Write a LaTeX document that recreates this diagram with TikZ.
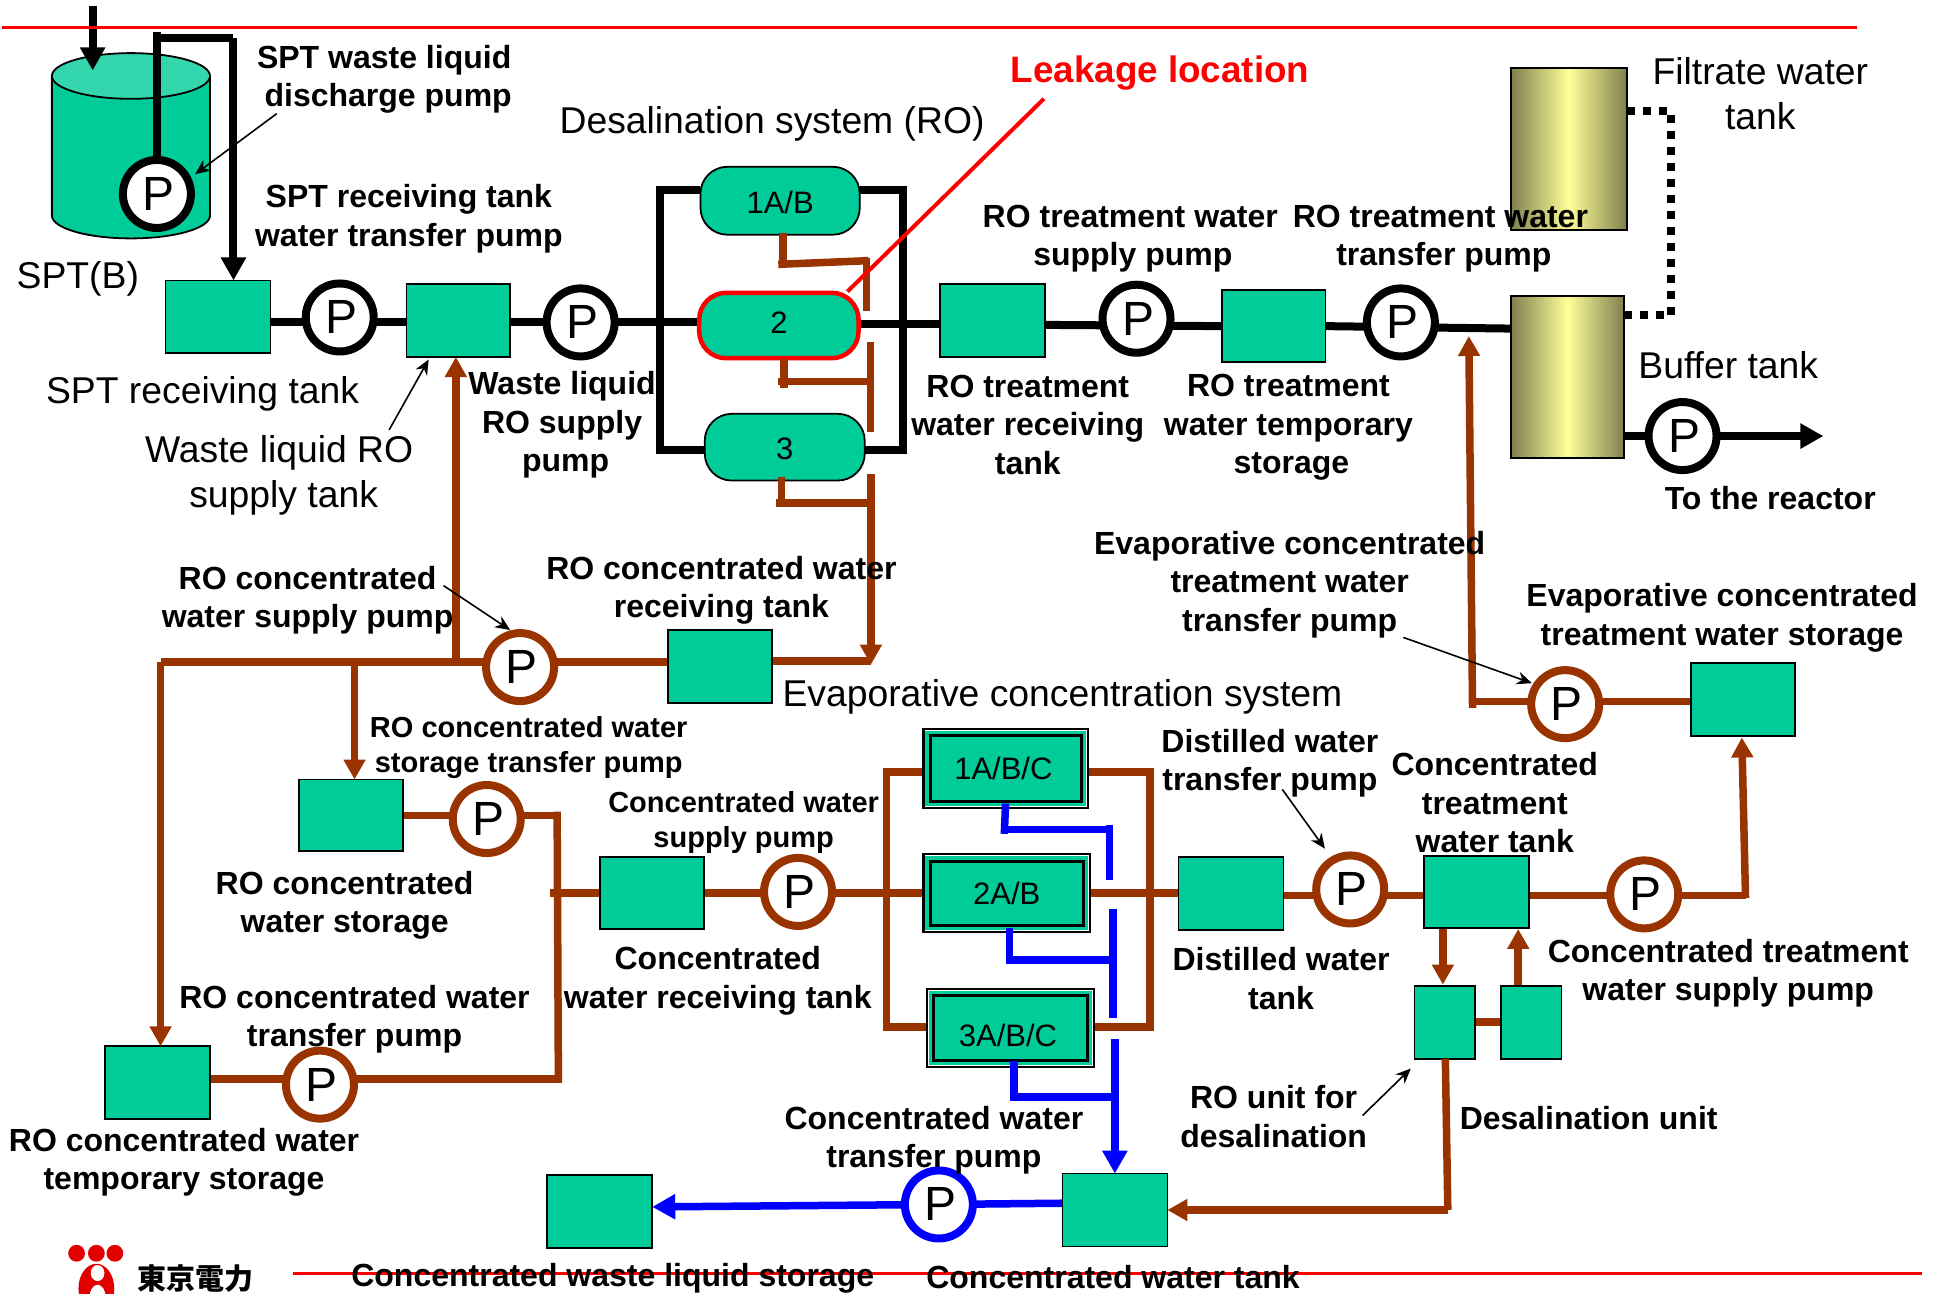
\documentclass[tikz,border=0pt]{standalone}
\usepackage{fontspec}
\setmainfont{Liberation Sans}
\newfontfamily\cjkjp{Noto Sans CJK JP}
\usetikzlibrary{arrows.meta,backgrounds,shapes.geometric,calc}
\definecolor{tankc}{HTML}{00CC99}
\definecolor{tanktop}{HTML}{33D6AD}
\definecolor{brn}{HTML}{993300}
\definecolor{blu}{HTML}{0000FF}
\definecolor{olv}{HTML}{7F7F4F}
\definecolor{ylw}{HTML}{FFFF99}
\definecolor{rd}{HTML}{FF0000}
\tikzset{
 tank/.style={rectangle,draw=black,line width=1.8pt,fill=tankc,inner sep=0,outer sep=0,
   font=\fontsize{31}{36}\selectfont},
 caps/.style={tank,rounded corners=27pt},
 filt/.style={rectangle,draw=black,line width=2pt,inner sep=0,outer sep=0,shading=axis,
   left color=olv,right color=olv,middle color=ylw,shading angle=90},
 pumpn/.style={circle,draw=#1,line width=8pt,fill=white,minimum size=68pt,inner sep=0,outer sep=0,
   font=\fontsize{48}{48}\selectfont},
 kl/.style={line width=8pt,black},
 kla/.style={line width=8pt,black,-{Triangle[length=23pt,width=24pt]}},
 bl/.style={line width=7.5pt,brn},
 bla/.style={line width=7.5pt,brn,-{Triangle[length=20pt,width=21pt]}},
 ul/.style={line width=7.5pt,blu},
 ula/.style={line width=7.5pt,blu,-{Triangle[length=23pt,width=24pt]}},
 lead/.style={line width=1.6pt,black,-{Stealth[length=15pt,width=13pt]}},
 bt/.style={align=center,inner sep=0,font=\fontsize{32}{38.5}\selectfont\bfseries},
 bs/.style={align=center,inner sep=0,font=\fontsize{29}{35}\selectfont\bfseries},
 rt/.style={align=center,inner sep=0,font=\fontsize{37.3}{45}\selectfont},
}
\newcommand{\bx}[7][tank]{%
 \pgfmathsetmacro\cxx{((#3)+(#5))/2}\pgfmathsetmacro\cyy{((#4)+(#6))/2}%
 \pgfmathsetmacro\www{((#5)-(#3))*1.2353}\pgfmathsetmacro\hhh{((#6)-(#4))*1.2353}%
 \node[#1,minimum width=\www pt,minimum height=\hhh pt] (#2) at (\cxx,\cyy) {#7};}
\newcommand{\evapunit}[6]{%
 \bx[rectangle,draw=black,line width=2.2pt,fill=white,inner sep=0,outer sep=0]{#1o}{#2}{#3}{#4}{#5}{}%
 \fill[tankc] (#2+1.6,#3+1.6) rectangle (#4-1.6,#5-1.6);%
 \bx[tank,line width=3pt]{#1}{#2+5.5}{#3+5.5}{#4-5.5}{#5-5.5}{#6}}
\newcommand{\Pp}{\kern3pt P}
\begin{document}
\begin{tikzpicture}[x=1.2353pt,y=-1.2353pt]
\useasboundingbox (0,0) rectangle (1568,1047);
% cylinder SPT(B)
\path[draw=black,line width=1.8pt,fill=tankc] (42,61.5) -- (42,174.5) arc[start angle=180,end angle=360,x radius=64,y radius=-18.5] -- (170,61.5) -- cycle;
\path[draw=black,line width=1.8pt,fill=tanktop] (106,61.5) ellipse[x radius=64,y radius=18.5];
% tank boxes
\bx{b1}{134}{227}{219}{286}{}
\bx{b2}{329}{230}{413}{289}{}
\bx{b3}{761}{230}{846}{289}{}
\bx{b4}{989}{235}{1073}{293}{}
\bx[filt]{ft}{1223}{55}{1317}{186}{}
\bx[filt]{bf}{1223}{240}{1315}{371}{}
\bx{b5}{541}{510}{625}{569}{}
\bx{b7}{242}{631}{326}{689}{}
\bx{b6}{85}{847}{170}{906}{}
\bx{b8}{486}{694}{570}{752}{}
\bx{b12}{954}{694}{1039}{753}{}
\bx{b13}{1153}{693}{1238}{751}{}
\bx{b14}{1369}{537}{1453}{596}{}
\bx{du1}{1145}{798}{1194}{857}{}
\bx{du2}{1215}{798}{1264}{857}{}
\bx{b10}{860}{950}{945}{1009}{}
\bx{b11}{443}{951}{528}{1010}{}
% capsules
\bx[caps]{c1}{567}{135}{696}{190}{\raisebox{-1.5pt}[\height][\depth]{1A/B}}
\bx[caps,draw=rd,line width=4.5pt]{c2}{566}{237}{695}{290}{\raisebox{3pt}[\height][\depth]{2}}
\bx[caps]{c3}{570.5}{335}{700}{389}{\raisebox{-1.5pt}[\height][\depth]{3}}
% evaporators
\evapunit{e1}{747.5}{590}{881}{654}{\hspace*{-5pt}1A/B/C}
\evapunit{e2}{747.5}{691.5}{882.5}{754.5}{2A/B}
\evapunit{e3}{750.5}{800.5}{885.5}{864}{\hspace*{-5pt}\raisebox{-7.5pt}[\height][\depth]{3A/B/C}}
% pumps
\node[pumpn=black] (tp) at (127,157) {\Pp};
\node[pumpn=black] (p1) at (275,257) {\Pp};
\node[pumpn=black] (p2) at (470,261) {\Pp};
\node[pumpn=black] (p3) at (920,258) {\Pp};
\node[pumpn=black] (p4) at (1134,261) {\Pp};
\node[pumpn=black] (p9) at (1362,353) {\Pp};
\node[pumpn=brn] (p5) at (421,540) {\Pp};
\node[pumpn=brn] (p6) at (394,663) {\Pp};
\node[pumpn=brn] (p7) at (259,878) {\Pp};
\node[pumpn=brn] (p8) at (646,722) {\Pp};
\node[pumpn=brn] (p12) at (1093,720) {\Pp};
\node[pumpn=brn] (p13) at (1331,724) {\Pp};
\node[pumpn=brn] (p14) at (1267,570) {\Pp};
\node[pumpn=blu] (p10) at (760,975) {\Pp};
% junction coordinates
\coordinate (inS) at (75,5);
\coordinate (inE) at (75,57);
\coordinate (tpT) at (127,26);
\coordinate (tpC) at (124.5,31);
\coordinate (tpR) at (189,31);
\coordinate (tpL) at (158,141);
\coordinate (frL) at (534,261);
\coordinate (frTL) at (534,154);
\coordinate (frTR) at (731,154);
\coordinate (frBL) at (534,364.5);
\coordinate (frBR) at (731,364.5);
\coordinate (eTL) at (717.5,625);
\coordinate (eTR) at (931,625);
\coordinate (eBL) at (717.5,831.5);
\coordinate (eBR) at (931,831.5);
\coordinate (gT) at (130,536);
\coordinate (gS) at (287,536);
\coordinate (gW) at (369,536);
\coordinate (gE) at (705,535);
\coordinate (k1) at (451,660);
\coordinate (k2) at (452,873.5);
\coordinate (k3) at (445,723);
\coordinate (u1) at (1413,725);
\coordinate (v1) at (1190,569);
\coordinate (w1) at (1170,857);
\coordinate (w2) at (1172,979.5);
\coordinate (bufin) at (1224,266);
\coordinate (bl261) at (0,261);
\coordinate (bl262) at (0,262);
\coordinate (bl263) at (0,263);
\coordinate (bl264) at (0,264);
\coordinate (bl725) at (0,725);
\coordinate (bl723) at (0,723);
\coordinate (bl568) at (0,568);
\coordinate (bl974) at (0,974);
\coordinate (bl977) at (0,977);
% background connectors
\begin{scope}[on background layer]
\draw[kl] (b1.east |- bl261) -- (b2.west |- bl261);
\draw[kl] (b2.east |- bl261) -- (c2.west |- bl261);
\draw[kl] (c2.east |- bl262) -- (b3.west |- bl262);
\draw[kl] (b3.east |- bl263) -- (b4.west |- bl264);
\draw[kl] (b4.east |- bl264) -- (bufin);
\draw[kl] (c1.west |- frTL) -- (frTL) -- (frBL) -- (c3.west |- frBL);
\draw[kl] (c1.east |- frTR) -- (frTR) -- (frBR) -- (c3.east |- frBR);
\draw[kl] (bf.east |- p9) -- (p9);
\draw[bl] (gT) -- (b5.west |- gT);
\draw[bl] (b5.east |- gE) -- (gE);
\draw[bl] (b7.east |- k1) -- (k1);
\draw[bl,line cap=rect] (k1) -- (k2);
\draw[bl] (k2) -- (b6.east |- k2);
\draw[bl] (k3) -- (b8.west |- k3);
\draw[bl] (b8.east |- bl723) -- (e2o.west |- bl723);
\draw[bl] (e1o.west |- eTL) -- (eTL) -- (eBL) -- (e3o.west |- eBL);
\draw[bl] (e1o.east |- eTR) -- (eTR) -- (eBR) -- (e3o.east |- eBR);
\draw[bl] (e2o.east |- bl723) -- (b12.west |- bl723);
\draw[bl] (b12.east |- bl725) -- (b13.west |- bl725);
\draw[bl] (b13.east |- bl725) -- (u1);
\draw[bl] (du1) -- (du2);
\draw[bl] (v1 |- bl568) -- (b14.west |- bl568);
\draw[ul] (b10.west |- bl974) -- (p10);
\end{scope}
% black connectors in front
\draw[kla] (inS) -- (inE);
\draw[kl] (tp.north) -- (tpT);
\draw[kl] (tpC) -- (tpR);
\draw[kla] (tpR) -- (tpR |- b1.north);
\draw[kla] (p9) ++(30,0) -- ++(84,0) coordinate (reac);
\draw[line width=8pt,dash pattern=on 8pt off 8pt] (ft.east |- 0,90) -- (1353,90) -- (1353,255) -- (bf.east |- 0,255);
% brown in front
\draw[bla] (gT) -- (gT |- b6.north);
\draw[bla] (gS) -- (gS |- b7.north);
\draw[bla] (gW) -- (gW |- b2.south);
\draw[bla] (1413,727) -- (1410,597);
\draw[bla] (1168,752) -- (1168,797);
\draw[bla] (1229,797) -- (1229,752);
\draw[bla] (1192,573) -- (1189,272);
\draw[bl] (w1) -- (w2);
\draw[bla] (w2) -- (b10.east |- w2);
% RO brown
\draw[bl] (634,189) -- (634,214);
\draw[bl] (630,214) -- (703,211);
\draw[bl] (701.5,209) -- (701.5,252);
\draw[bl] (634.5,291) -- (634.5,314);
\draw[bl] (630,309) -- (704,309);
\draw[bl] (704.5,277) -- (704.5,350);
\draw[bl] (632.5,386) -- (632.5,410);
\draw[bl] (628,407) -- (705,407);
\draw[bla] (705,384) -- (705,538);
% blue
\draw[ul] (814,650.5) -- (813,675);
\draw[ul] (810,671.5) -- (898,671.5);
\draw[ul] (898,668) -- (898,712.5);
\draw[ul] (901,736) -- (901,824);
\draw[ul] (817,751) -- (817,780);
\draw[ul] (814,777) -- (901,777);
\draw[ula] (902.5,841) -- (902.5,950);
\draw[ul] (821,859) -- (821,891);
\draw[ul] (818,888) -- (902,888);
\draw[ula] (p10) -- (b11.east |- bl977);
% leaders
\draw[lead] (224,92) -- (tpL);
\draw[lead] (315,348) -- (347,291);
\draw[lead] (359,474) -- (413,510);
\draw[lead] (1038,639) -- (1072.5,687);
\draw[lead] (1136,516) -- (1240,553);
\draw[lead] (1103,903) -- (1142,865);
\draw[line width=4pt,rd] (845,80) -- (686,236);
% red rules
\draw[line width=3pt,rd] (2,22) -- (1503,22);
\draw[line width=3pt,rd] (237,1031) -- (1556,1031);
% logo
\begin{scope}
\clip (0,0) rectangle (1568,1047);
\fill[rd!88!black] (62,1014.5) circle (6.8);
\fill[rd!88!black] (78,1014.5) circle (6.8);
\fill[rd!88!black] (93,1014.5) circle (6.8);
\fill[rd!88!black] (78,1043) ellipse[x radius=14.5,y radius=20];
\fill[white] (79,1030.5) ellipse[x radius=5.5,y radius=6.5];
\fill[white] (79,1050) ellipse[x radius=6.5,y radius=10];
\end{scope}
\node[inner sep=0,font=\fontsize{29}{29}\selectfont\cjkjp\bfseries,text=black] (logo) at (158,1035) {東京電力};
% labels
\node[rt] (t1) at (63,226) {SPT(B)};
\node[rt] (t2) at (164,319) {SPT receiving tank};
\node[rt] (t3) at (226,385) {Waste liquid RO\\\hspace*{9pt}supply tank};
\node[rt] (t4) at (625,100) {Desalination system (RO)};
\node[rt] (t5) at (1425,76) {Filtrate water\\tank};
\node[rt] (t6) at (1399,296) {Buffer tank};
\node[rt] (t7) at (860,564) {Evaporative concentration system};
\node[bt,text=rd,font=\fontsize{36.8}{40}\selectfont\bfseries] (t8) at (939,59) {Leakage location};
\node[bt] (l1) at (311,64) {SPT waste liquid\\\hspace*{8pt}discharge pump};
\node[bt] (l2) at (331,177) {SPT receiving tank\\water transfer pump};
\node[bt] (l3) at (455,344) {Waste liquid\\RO supply\\\hspace*{7pt}pump};
\node[bt] (l4) at (915,193) {RO treatment water\\\hspace*{5pt}supply pump};
\node[bt] (l5) at (1166,193) {RO treatment water\\\hspace*{7pt}transfer pump};
\node[bt] (l6) at (832,344) {RO treatment\\water receiving\\tank};
\node[bt] (l7) at (1043,346) {RO treatment\\water temporary\\\hspace*{6pt}storage};
\node[bt] (l8) at (1433,403) {To the reactor};
\node[bt] (l9) at (1044,473) {Evaporative concentrated\\treatment water\\transfer pump};
\node[bt] (l10) at (1394,500) {Evaporative concentrated\\treatment water storage};
\node[bt] (l11) at (249,486) {RO concentrated\\water supply pump};
\node[bt] (l12) at (584,478) {RO concentrated water\\receiving tank};
\node[bs] (l13) at (428,605) {RO concentrated water\\storage transfer pump};
\node[bs] (l14) at (602,666) {Concentrated water\\supply pump};
\node[bt] (l15) at (279,733) {RO concentrated\\water storage};
\node[bt] (l16) at (581,794) {Concentrated\\water receiving tank};
\node[bt] (l17) at (287,825) {RO concentrated water\\transfer pump};
\node[bt] (l18) at (149,941) {RO concentrated water\\temporary storage};
\node[bt] (l19) at (1028,618) {Distilled water\\transfer pump};
\node[bt] (l20) at (1210,650) {Concentrated\\treatment\\water tank};
\node[bt] (l21) at (1037,792) {Distilled water\\tank};
\node[bt] (l22) at (1399,788) {Concentrated treatment\\water supply pump};
\node[bt] (l23) at (1031,904) {RO unit for\\desalination};
\node[bt] (l24) at (1286,905) {Desalination unit};
\node[bt] (l25) at (756,923) {Concentrated water\\transfer pump};
\node[bt] (l26) at (496,1035) {Concentrated waste liquid storage};
\node[bt] (l27) at (901,1034) {Concentrated water tank};
\end{tikzpicture}
\end{document}
